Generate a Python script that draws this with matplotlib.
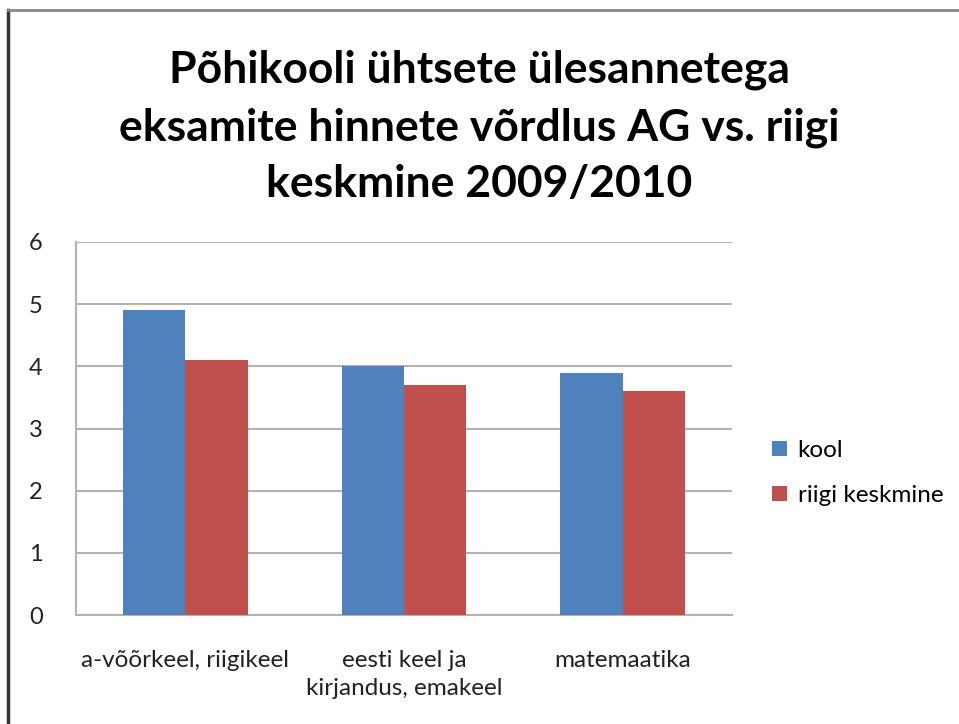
import numpy as np
import matplotlib
matplotlib.use("Agg")
import matplotlib.pyplot as plt
from matplotlib.lines import Line2D

categories = ["a-võõrkeel, riigikeel", "eesti keel ja\nkirjandus, emakeel", "matemaatika"]
kool = [4.9, 4.0, 3.9]
riigi = [4.1, 3.7, 3.6]
series_names = ["kool", "riigi keskmine"]
yticks = [0, 1, 2, 3, 4, 5, 6]

plt.rcParams["font.family"] = ["Lato", "DejaVu Sans"]

fig = plt.figure(figsize=(9.59, 7.24), dpi=100)
ax = fig.add_axes([76 / 959, 1 - 615 / 724, (732 - 76) / 959, (615 - 242) / 724])

x = np.arange(len(categories))
w = 1 / 3.5
ax.bar(x - w / 2, kool, w, color="#4f81bd", label=series_names[0], zorder=3)
ax.bar(x + w / 2, riigi, w, color="#c0504d", label=series_names[1], zorder=3)

ax.set_xlim(-0.5, len(categories) - 0.5)
ax.set_ylim(0, 6)
ax.set_yticks(yticks)
ax.set_xticks(x)
ax.set_xticklabels(categories, fontsize=17.5, color="#222222", linespacing=1.45)
ax.tick_params(axis="y", labelsize=17, length=0, pad=24, labelcolor="#222222")
ax.tick_params(axis="x", length=0, pad=25)
ax.grid(axis="y", color="#b3b3b3", linewidth=1.5, zorder=0)
for s in ["top", "right"]:
    ax.spines[s].set_visible(False)
for s in ["left", "bottom"]:
    ax.spines[s].set_color("#b3b3b3")
    ax.spines[s].set_linewidth(1.5)

fig.text(0.5, 1 - 127 / 724, "Põhikooli ühtsete ülesannetega\neksamite hinnete võrdlus AG vs. riigi\nkeskmine 2009/2010",
         ha="center", va="center", fontsize=32, fontweight="bold", linespacing=1.5)

ax.legend(loc="center left", bbox_to_anchor=(772 / 959, 1 - 473 / 724), bbox_transform=fig.transFigure,
          frameon=False, fontsize=17.5, borderaxespad=0, borderpad=0,
          handlelength=0.6, handleheight=0.6, handletextpad=0.45, labelspacing=1.0)

# frame edges of the screenshot
fig.add_artist(Line2D([8 / 959, 8 / 959], [0, 1 - 10 / 724], color="#333333", linewidth=2.5))
fig.add_artist(Line2D([8 / 959, 1], [1 - 10 / 724, 1 - 10 / 724], color="#888888", linewidth=2))

fig.savefig("out.png", dpi=100)
